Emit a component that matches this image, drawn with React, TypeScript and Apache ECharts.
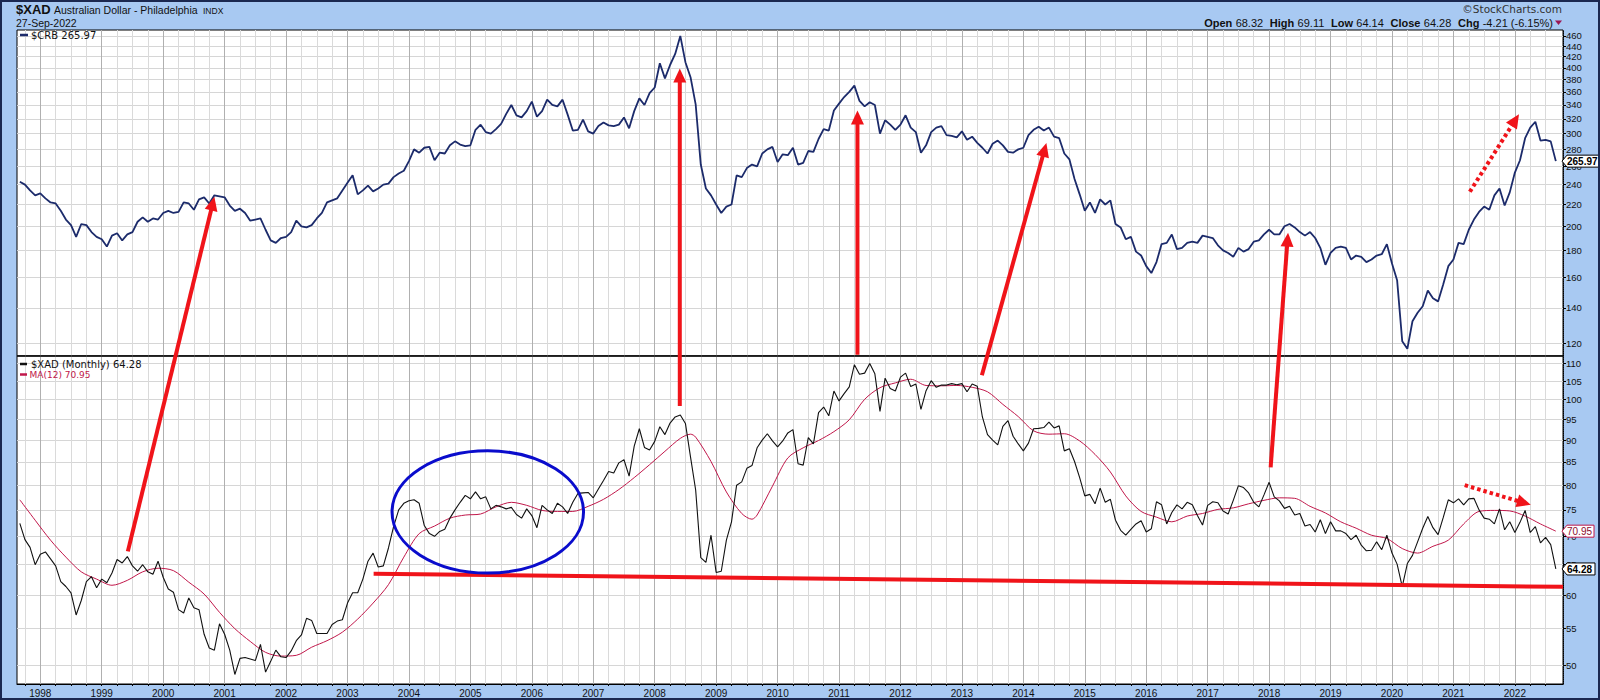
import React, { useEffect, useRef } from "react";
import * as echarts from "echarts";

// ---- DATA: monthly closes, September 1997 .. September 2022 ----
const FIRST_YEAR = 1997;
const FIRST_MONTH = 9;

// $CRB monthly closes
const crbClose: number[] = [
  243, 240, 234, 229, // 1997 Sep-Dec
  231, 226, 222, 221, 214, 206, 201, 191, 202, 201, 195, 191, // 1998
  189, 183, 192, 194, 188, 193, 195, 204, 208, 204, 207, 206, // 1999
  212, 214, 212, 213, 222, 221, 215, 225, 227, 221, 229, 228, // 2000
  227, 219, 214, 216, 212, 205, 206, 207, 197, 188, 186, 190, // 2001
  191, 195, 205, 200, 199, 201, 207, 212, 222, 224, 226, 234, // 2002
  242, 250, 230, 234, 239, 233, 236, 240, 241, 248, 252, 255, // 2003
  266, 280, 276, 282, 283, 267, 276, 275, 285, 290, 286, 284, // 2004
  285, 305, 312, 302, 300, 306, 313, 327, 340, 325, 322, 331, // 2005
  345, 323, 331, 348, 340, 338, 348, 326, 304, 305, 319, 303, // 2006
  300, 310, 315, 311, 310, 312, 322, 307, 331, 350, 340, 358, // 2007
  367, 408, 382, 405, 425, 460, 410, 384, 341, 262, 236, 229, // 2008
  220, 212, 218, 220, 250, 248, 258, 262, 260, 275, 280, 283, // 2009
  265, 274, 273, 282, 262, 264, 278, 277, 293, 306, 304, 332, // 2010
  342, 352, 360, 370, 346, 338, 344, 340, 300, 318, 312, 305, // 2011
  312, 325, 308, 302, 276, 285, 302, 308, 310, 298, 297, 295, // 2012
  303, 292, 296, 288, 282, 275, 287, 291, 285, 277, 276, 280, // 2013
  282, 298, 305, 309, 304, 308, 296, 294, 275, 268, 246, 230, // 2014
  214, 222, 212, 225, 220, 224, 202, 199, 189, 191, 179, 176, // 2015
  168, 163, 171, 185, 186, 193, 181, 182, 186, 187, 186, 192, // 2016
  191, 190, 184, 180, 178, 175, 182, 179, 181, 187, 188, 193, // 2017
  197, 193, 193, 200, 202, 199, 195, 192, 195, 190, 182, 169, // 2018
  178, 182, 183, 182, 173, 176, 175, 171, 173, 176, 177, 185, // 2019
  170, 158, 121, 117, 132, 137, 141, 151, 146, 144, 155, 168, // 2020
  173, 186, 185, 197, 206, 213, 218, 215, 229, 236, 219, 232, // 2021
  253, 267, 294, 308, 316, 291, 292, 290, 265.97, // 2022 Jan-Sep
];

// $XAD monthly closes
const xadClose: number[] = [
  72.4, 69.4, 68.0, 65.0, // 1997 Sep-Dec
  66.8, 67.2, 66.0, 64.8, 62.2, 61.4, 60.4, 57.0, 59.2, 62.2, 63.0, 61.2, // 1998
  62.6, 62.0, 63.6, 65.9, 65.3, 66.4, 64.8, 63.9, 65.0, 63.8, 63.4, 65.6, // 1999
  62.9, 61.0, 60.5, 57.8, 57.3, 59.6, 58.1, 57.8, 54.2, 52.3, 52.0, 55.7, // 2000
  54.2, 52.0, 48.8, 50.9, 51.0, 50.8, 50.6, 52.8, 49.1, 50.5, 52.0, 51.1, // 2001
  51.0, 51.9, 53.3, 54.1, 56.5, 56.2, 54.3, 54.3, 54.3, 55.6, 56.1, 56.3, // 2002
  58.8, 60.4, 60.4, 62.6, 65.6, 67.0, 64.6, 64.8, 67.9, 71.8, 75.0, 76.3, // 2003
  76.8, 77.0, 76.3, 72.0, 70.5, 70.0, 70.9, 71.3, 73.4, 75.0, 76.5, 77.9, // 2004
  77.2, 78.6, 77.2, 77.6, 75.2, 75.9, 75.6, 75.2, 75.5, 74.1, 73.4, 75.2, // 2005
  73.9, 71.6, 75.9, 75.0, 74.3, 76.3, 75.6, 74.3, 76.5, 78.3, 78.4, 78.5, // 2006
  77.4, 79.2, 81.0, 82.9, 82.6, 84.8, 85.5, 81.9, 88.6, 92.7, 88.3, 87.7, // 2007
  89.7, 93.2, 91.3, 94.1, 95.6, 96.1, 94.0, 86.1, 79.0, 66.2, 65.4, 70.2, // 2008
  63.7, 63.9, 69.3, 72.7, 80.0, 80.7, 83.6, 84.2, 88.2, 90.0, 91.5, 89.8, // 2009
  88.4, 89.8, 91.7, 92.5, 84.6, 84.3, 90.6, 89.1, 96.7, 98.1, 95.9, 102.3, // 2010
  99.7, 101.6, 103.4, 109.6, 106.9, 107.2, 109.9, 107.0, 97.0, 105.8, 103.0, 102.3, // 2011
  106.1, 107.2, 103.5, 104.2, 97.5, 102.4, 105.1, 103.3, 103.9, 103.9, 104.3, 104.0, // 2012
  104.3, 102.1, 104.2, 103.6, 95.6, 91.3, 90.0, 88.9, 93.3, 94.7, 90.9, 89.1, // 2013
  87.5, 89.3, 92.7, 92.8, 93.0, 94.3, 92.9, 93.4, 87.5, 88.0, 85.1, 81.6, // 2014
  77.8, 78.1, 76.2, 79.4, 76.5, 77.1, 73.0, 71.1, 70.2, 71.3, 72.3, 72.9, // 2015
  70.8, 71.4, 76.6, 76.0, 72.3, 74.5, 76.0, 75.2, 76.5, 76.0, 73.9, 72.1, // 2016
  75.9, 76.6, 76.4, 74.8, 74.2, 76.9, 79.9, 79.5, 78.4, 76.5, 75.6, 78.0, // 2017
  80.6, 77.6, 76.8, 75.3, 75.7, 74.0, 74.3, 71.9, 72.2, 70.8, 73.1, 70.5, // 2018
  72.7, 71.0, 71.0, 70.5, 69.4, 70.2, 68.4, 67.4, 67.5, 69.0, 67.6, 70.2, // 2019
  67.0, 65.1, 61.4, 65.2, 66.6, 69.0, 71.5, 73.7, 71.6, 70.3, 73.5, 77.0, // 2020
  76.4, 77.2, 76.0, 77.2, 77.3, 75.0, 73.4, 73.2, 72.3, 75.2, 71.2, 72.7, // 2021
  70.7, 72.6, 74.9, 70.7, 71.8, 68.8, 69.8, 68.5, 64.28, // 2022 Jan-Sep
];

// MA(12) of $XAD
const maDates: string[] = [
  "1997-09", "1997-12", "1998-03", "1998-06", "1998-09", "1998-12",
  "1999-03", "1999-06", "1999-09", "1999-12", "2000-03", "2000-06", "2000-09", "2000-12",
  "2001-03", "2001-06", "2001-09", "2001-12", "2002-03", "2002-06", "2002-09", "2002-12",
  "2003-03", "2003-06", "2003-09", "2003-12", "2004-03", "2004-06", "2004-09", "2004-12",
  "2005-03", "2005-06", "2005-09", "2005-12", "2006-03", "2006-06", "2006-09", "2006-12",
  "2007-03", "2007-06", "2007-09", "2007-12", "2008-03", "2008-06", "2008-08", "2008-09", "2008-12",
  "2009-03", "2009-06", "2009-08", "2009-09", "2009-12", "2010-03", "2010-06", "2010-09", "2010-12",
  "2011-03", "2011-06", "2011-09", "2011-12", "2012-03", "2012-06", "2012-09", "2012-12",
  "2013-03", "2013-06", "2013-09", "2013-12", "2014-03", "2014-06", "2014-09", "2014-12",
  "2015-03", "2015-06", "2015-09", "2015-12", "2016-03", "2016-06", "2016-09", "2016-12",
  "2017-03", "2017-06", "2017-09", "2017-12", "2018-03", "2018-06", "2018-09", "2018-12",
  "2019-03", "2019-06", "2019-09", "2019-12", "2020-03", "2020-06", "2020-09", "2020-12",
  "2021-03", "2021-06", "2021-09", "2021-12", "2022-03", "2022-06", "2022-09",
];
const maValues: number[] = [
  77.0, 73.0, 69.3, 66.3, 63.8, 62.6,
  61.6, 62.4, 63.8, 64.4, 64.0, 62.1, 60.2, 57.4,
  55.0, 53.2, 51.7, 51.2, 51.3, 52.4, 53.3, 54.5,
  56.4, 58.8, 61.7, 66.3, 70.5, 71.9, 73.4, 74.0,
  74.2, 75.6, 76.5, 75.9, 74.9, 74.7, 74.7, 75.7,
  77.1, 79.1, 81.6, 84.4, 87.4, 90.4, 91.4, 90.7, 85.1,
  78.6, 74.3, 73.2, 74.0, 79.8, 85.9, 88.2, 89.9, 92.0,
  94.9, 100.1, 103.2, 104.5, 105.5, 103.8, 103.7, 103.8,
  103.3, 102.1, 98.8, 95.7, 92.2, 91.4, 91.5, 89.8,
  86.7, 82.8, 77.8, 74.7, 73.6, 72.7, 73.8, 74.3,
  75.1, 75.4, 76.2, 76.9, 77.4, 77.3, 75.7, 74.4,
  72.7, 71.5, 70.2, 69.6, 67.8, 67.0, 68.2, 69.3,
  72.3, 74.7, 74.9, 74.8, 73.8, 72.3, 70.95,
];

const crbTicks: number[] = [120, 140, 160, 180, 200, 220, 240, 260, 280, 300, 320, 340, 360, 380, 400, 420, 440, 460];
const xadTicks: number[] = [50, 55, 60, 65, 70, 75, 80, 85, 90, 95, 100, 105, 110];
const yearLabels: number[] = [
  1998, 1999, 2000, 2001, 2002, 2003, 2004, 2005, 2006, 2007, 2008, 2009, 2010,
  2011, 2012, 2013, 2014, 2015, 2016, 2017, 2018, 2019, 2020, 2021, 2022,
];

const crbLast = "265.97";
const xadLast = "64.28";
const maLast = "70.95";

// ---- helpers / styling ----
const monthIndex = (y: number, m: number) => (y - 1998) * 12 + (m - 1);
const parseYM = (s: string) => {
  const [y, m] = s.split("-").map(Number);
  return monthIndex(y, m);
};

const X_MIN = -4.55;
const X_MAX = 297.4;
const FONT = '"Liberation Sans", Arial, sans-serif';
const VFONT = '"DejaVu Sans", Verdana, sans-serif';
const RED = "#f0141a";
const NAVY = "#1c2b6b";
const CRIMSON = "#c0174a";

export default function App() {
  const ref = useRef<HTMLDivElement>(null);

  useEffect(() => {
    document.body.style.margin = "0";
    document.body.style.overflow = "hidden";
    const chart = echarts.init(ref.current!, undefined, { renderer: "svg" });

    const start = monthIndex(FIRST_YEAR, FIRST_MONTH);
    const crbData = crbClose.map((v, i) => [start + i, v]);
    const xadData = xadClose.map((v, i) => [start + i, v]);
    const maData = maDates.map((d, i) => [parseYM(d), maValues[i]]);

    const quarterTicks: number[] = [];
    for (let m = -3; m <= 294; m += 3) quarterTicks.push(m);
    const yearTicks = yearLabels.map((y) => monthIndex(y, 1));

    const xAxisDef = (gridIndex: number, ticks: number[], color: string, extra: any = {}) => ({
      type: "value",
      gridIndex,
      position: "bottom",
      min: X_MIN,
      max: X_MAX,
      axisLine: { show: false, onZero: false },
      axisTick: { show: false, customValues: ticks },
      axisLabel: { show: false, customValues: ticks },
      splitLine: { show: true, lineStyle: { color, width: 1 } },
      ...extra,
    });

    const yAxisDef = (gridIndex: number, min: number, max: number, ticks: number[]) => ({
      type: "log",
      logBase: 10,
      gridIndex,
      position: "right",
      min,
      max,
      axisLine: { show: true, onZero: false, lineStyle: { color: "#000", width: 1, type: "dotted" } },
      axisTick: { show: true, length: 3, customValues: ticks, lineStyle: { color: "#000" } },
      axisLabel: {
        show: true,
        customValues: ticks,
        fontSize: 9.5,
        fontFamily: FONT,
        color: "#111",
        margin: 3,
        formatter: (v: number) => String(Math.round(v)),
      },
      splitLine: { show: true, lineStyle: { color: "#d6d6d6", width: 1 } },
    });

    const option: any = {
      animation: false,
      backgroundColor: "#a8c9f2",
      grid: [
        { left: 17, top: 30, width: 1546, height: 326, show: true, backgroundColor: "#fff", borderColor: "#000", borderWidth: 1 },
        { left: 17, top: 356, width: 1546, height: 328, show: true, backgroundColor: "#fff", borderColor: "#000", borderWidth: 1 },
      ],
      xAxis: [
        xAxisDef(0, quarterTicks, "#dadada"),
        xAxisDef(0, yearTicks, "#b0b0b0"),
        xAxisDef(1, quarterTicks, "#dadada", {
          axisLine: { show: true, onZero: false, lineStyle: { color: "#000", width: 1 } },
          axisTick: { show: true, length: 2, customValues: quarterTicks, lineStyle: { color: "#000" } },
        }),
        xAxisDef(1, yearTicks, "#b0b0b0", {
          axisLabel: {
            show: true,
            customValues: yearTicks,
            fontSize: 10,
            fontFamily: FONT,
            color: "#111",
            margin: 4,
            formatter: (v: number) => String(1998 + Math.round(v / 12)),
          },
        }),
      ],
      yAxis: [yAxisDef(0, 113.4, 472, crbTicks), yAxisDef(1, 47.6, 112.1, xadTicks)],
      series: [
        {
          name: "$CRB",
          type: "line",
          xAxisIndex: 0,
          yAxisIndex: 0,
          data: crbData,
          symbol: "none",
          silent: true,
          lineStyle: { color: NAVY, width: 1.8 },
          z: 3,
        },
        {
          name: "MA(12)",
          type: "line",
          xAxisIndex: 2,
          yAxisIndex: 1,
          data: maData,
          symbol: "none",
          smooth: 0.3,
          silent: true,
          lineStyle: { color: CRIMSON, width: 1 },
          z: 2,
        },
        {
          name: "$XAD",
          type: "line",
          xAxisIndex: 2,
          yAxisIndex: 1,
          data: xadData,
          symbol: "none",
          silent: true,
          lineStyle: { color: "#111", width: 1.1 },
          z: 3,
        },
      ],
    };
    chart.setOption(option);

    const top = (m: number, v: number) => chart.convertToPixel({ xAxisIndex: 0, yAxisIndex: 0 }, [m, v]) as number[];
    const bot = (m: number, v: number) => chart.convertToPixel({ xAxisIndex: 2, yAxisIndex: 1 }, [m, v]) as number[];

    const els: any[] = [];
    const text = (x: number, y: number, t: string, font: string, fill: string, align = "left", extra: any = {}) => ({
      type: "text",
      z: 120,
      x,
      y,
      style: { text: t, font, fill, align, textAlign: align, verticalAlign: "middle", textVerticalAlign: "middle", ...extra },
    });

    // panel divider (solid)
    const dl = top(X_MIN, 113.4);
    const dr = top(X_MAX, 113.4);
    els.push({ type: "line", z: 105, shape: { x1: dl[0], y1: dl[1], x2: dr[0], y2: dr[1] }, style: { stroke: "#111", lineWidth: 1.3 } });

    // header
    els.push(text(16, 9.5, "$XAD", `bold 13px ${FONT}`, "#111"));
    els.push(text(54, 10, "Australian Dollar - Philadelphia", `10.5px ${FONT}`, "#111"));
    els.push(text(203, 10.5, "INDX", `8.5px ${FONT}`, "#111"));
    els.push(text(16, 22.5, "27-Sep-2022", `10.5px ${FONT}`, "#111"));
    els.push(text(1562, 8.5, "©StockCharts.com", `10.5px ${VFONT}`, "#333", "right"));
    els.push({
      type: "text",
      z: 120,
      x: 1553,
      y: 23,
      style: {
        text: "{b|Open} {r|68.32}  {b|High} {r|69.11}  {b|Low} {r|64.14}  {b|Close} {r|64.28}  {b|Chg} {r|-4.21 (-6.15%)}",
        align: "right",
        textAlign: "right",
        verticalAlign: "middle",
        textVerticalAlign: "middle",
        fill: "#111",
        rich: {
          b: { fontWeight: "bold", fontSize: 11, fontFamily: FONT, fill: "#111" },
          r: { fontSize: 11, fontFamily: FONT, fill: "#111" },
        },
      },
    });
    els.push({
      type: "polygon",
      z: 120,
      shape: { points: [[1555, 20.5], [1562, 20.5], [1558.5, 25]] },
      style: { fill: "#9b1654" },
    });

    // legends
    els.push({ type: "line", z: 120, shape: { x1: 20, y1: 35, x2: 28, y2: 35 }, style: { stroke: NAVY, lineWidth: 2.5 } });
    els.push(text(31, 35.5, `$CRB ${crbLast}`, `10px ${VFONT}`, "#111"));
    els.push({ type: "line", z: 120, shape: { x1: 20, y1: 364, x2: 27, y2: 364 }, style: { stroke: "#111", lineWidth: 2.5 } });
    els.push(text(31, 364.5, `$XAD (Monthly) ${xadLast}`, `10px ${VFONT}`, "#111"));
    els.push({ type: "line", z: 120, shape: { x1: 20, y1: 374.5, x2: 27, y2: 374.5 }, style: { stroke: CRIMSON, lineWidth: 2.5 } });
    els.push(text(29.5, 375, `MA(12) ${maLast}`, `9px ${VFONT}`, CRIMSON));

    // value tags on the right axis
    const tag = (y: number, t: string, w: number, border: string, fill: string, bold: boolean) => {
      const x0 = 1562;
      const h = 12;
      els.push({
        type: "polygon",
        z: 125,
        shape: { points: [[x0, y], [x0 + 5, y - h / 2], [x0 + w, y - h / 2], [x0 + w, y + h / 2], [x0 + 5, y + h / 2]] },
        style: { fill: "#fff", stroke: border, lineWidth: 1 },
      });
      els.push({ ...text(x0 + 5, y + 0.5, t, `${bold ? "bold " : ""}10px ${FONT}`, fill), z: 126 });
    };
    tag(top(0, parseFloat(crbLast))[1], crbLast, 37, "#000", "#000", true);
    tag(bot(0, parseFloat(maLast))[1], maLast, 32, CRIMSON, "#8b0d2e", false);
    tag(bot(0, parseFloat(xadLast))[1], xadLast, 33, "#000", "#000", true);

    // annotations (defined in month / value terms)
    const arrow = (a: number[], b: number[], dashed: boolean) => {
      const dx = b[0] - a[0];
      const dy = b[1] - a[1];
      const len = Math.hypot(dx, dy);
      const ux = dx / len;
      const uy = dy / len;
      const hl = 14;
      const hw = 6.5;
      const bx = b[0] - ux * hl;
      const by = b[1] - uy * hl;
      els.push({
        type: "line",
        z: 110,
        shape: { x1: a[0], y1: a[1], x2: bx + ux * 1, y2: by + uy * 1 },
        style: { stroke: RED, lineWidth: 4, lineDash: dashed ? [3.5, 3] : null },
      });
      els.push({
        type: "polygon",
        z: 110,
        shape: { points: [[b[0], b[1]], [bx - uy * hw, by + ux * hw], [bx + uy * hw, by - ux * hw]] },
        style: { fill: RED },
      });
    };
    arrow(bot(17.1, 67.3), top(34.0, 227.6), false);
    arrow(bot(124.9, 98.4), top(124.9, 399), false);
    arrow(top(159.6, 114), top(159.6, 332), false);
    arrow(bot(183.9, 106.6), top(196.5, 288), false);
    arrow(bot(240.3, 83.8), top(243.7, 194.5), false);
    arrow(top(279.2, 232.6), top(288.8, 326.5), true);
    arrow(bot(278.2, 80.0), bot(291.1, 76.0), true);

    // horizontal support line
    const h1 = bot(65.1, 63.5);
    const h2 = bot(X_MAX, 61.35);
    els.push({ type: "line", z: 110, shape: { x1: h1[0], y1: h1[1], x2: h2[0], y2: h2[1] }, style: { stroke: RED, lineWidth: 4 } });

    // blue ellipse
    const eTL = bot(68.7, 87.5);
    const eBR = bot(106.1, 63.6);
    els.push({
      type: "ellipse",
      z: 110,
      shape: { cx: (eTL[0] + eBR[0]) / 2, cy: (eTL[1] + eBR[1]) / 2, rx: (eBR[0] - eTL[0]) / 2, ry: (eBR[1] - eTL[1]) / 2 },
      style: { fill: "none", stroke: "#0a0ccc", lineWidth: 3 },
    });

    // outer frame
    els.push({ type: "rect", z: 130, shape: { x: 1, y: 1, width: 1598, height: 698 }, style: { fill: "none", stroke: "#1b2850", lineWidth: 2 } });

    chart.setOption({ graphic: { elements: els } });

    return () => chart.dispose();
  }, []);

  return <div ref={ref} style={{ width: 1600, height: 700 }} />;
}
